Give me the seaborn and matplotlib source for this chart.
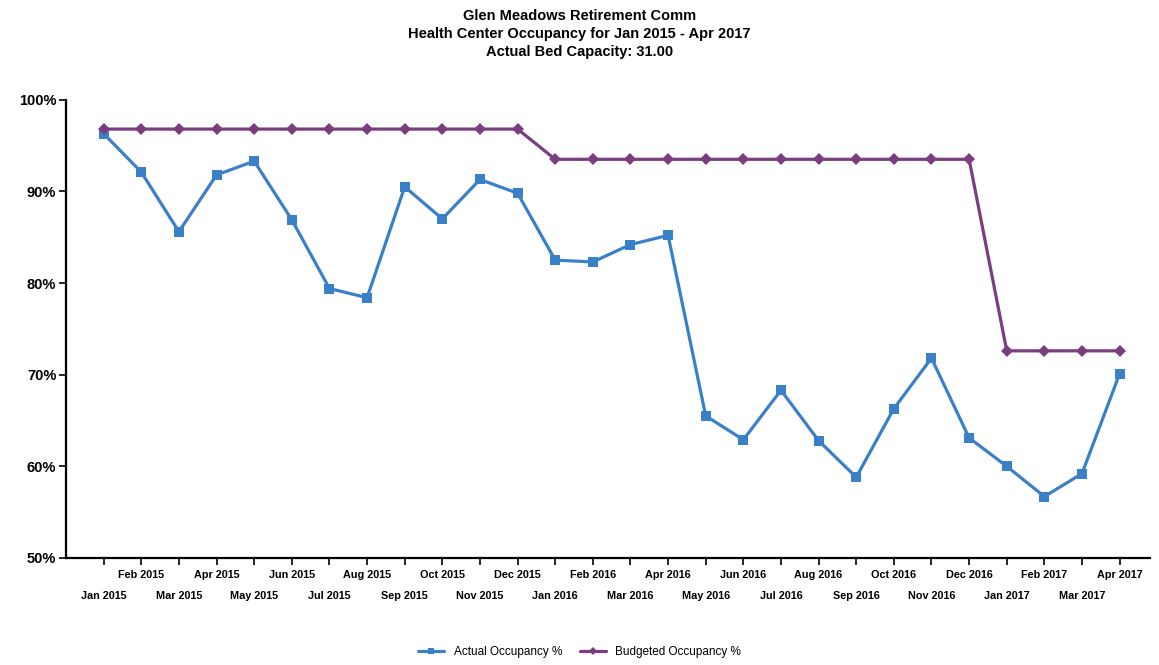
import matplotlib
import pandas as pd
import matplotlib.pyplot as plt
import seaborn as sns
from matplotlib.ticker import FuncFormatter, FixedLocator, FixedFormatter

matplotlib.use('Agg')

months = [
    "Jan 2015", "Feb 2015", "Mar 2015", "Apr 2015", "May 2015", "Jun 2015",
    "Jul 2015", "Aug 2015", "Sep 2015", "Oct 2015", "Nov 2015", "Dec 2015",
    "Jan 2016", "Feb 2016", "Mar 2016", "Apr 2016", "May 2016", "Jun 2016",
    "Jul 2016", "Aug 2016", "Sep 2016", "Oct 2016", "Nov 2016", "Dec 2016",
    "Jan 2017", "Feb 2017", "Mar 2017", "Apr 2017",
]

actual = [
    96.3, 92.1, 85.6, 91.8, 93.3, 86.9, 79.4, 78.4, 90.5, 87.0, 91.3, 89.8,
    82.5, 82.3, 84.2, 85.2, 65.5, 62.9, 68.3, 62.8, 58.8, 66.3, 71.8, 63.1,
    60.0, 56.7, 59.2, 70.1,
]

budgeted = [
    96.8, 96.8, 96.8, 96.8, 96.8, 96.8, 96.8, 96.8, 96.8, 96.8, 96.8, 96.8,
    93.5, 93.5, 93.5, 93.5, 93.5, 93.5, 93.5, 93.5, 93.5, 93.5, 93.5, 93.5,
    72.6, 72.6, 72.6, 72.6,
]

series_names = ["Actual Occupancy %", "Budgeted Occupancy %"]
colors = {"Actual Occupancy %": "#3a80c9", "Budgeted Occupancy %": "#7a3d80"}
markers = {"Actual Occupancy %": "s", "Budgeted Occupancy %": "D"}
marker_sizes = {"Actual Occupancy %": 7, "Budgeted Occupancy %": 6}

df = pd.concat([
    pd.DataFrame({"idx": range(len(months)), "value": actual, "series": series_names[0]}),
    pd.DataFrame({"idx": range(len(months)), "value": budgeted, "series": series_names[1]}),
])

sns.set_style("white")
plt.rcParams['font.family'] = ['Liberation Sans', 'DejaVu Sans']
plt.rcParams['text.color'] = 'black'
plt.rcParams['xtick.color'] = 'black'
plt.rcParams['ytick.color'] = 'black'

fig = plt.figure(figsize=(11.59, 6.65), dpi=100)
ax = fig.add_axes([0.057, 0.161, 0.935, 0.689])

for name in series_names:
    sub = df[df["series"] == name]
    sns.lineplot(data=sub, x="idx", y="value", ax=ax, color=colors[name],
                 marker=markers[name], markersize=marker_sizes[name],
                 markeredgewidth=0, linewidth=2.3, label=name)

ax.set_xlim(-1, 27.8)
ax.set_ylim(50, 100)
ax.set_yticks([50, 60, 70, 80, 90, 100])
ax.yaxis.set_major_formatter(FuncFormatter(lambda v, p: f"{int(v)}%"))

# odd months on the upper row (major), even months on the lower row (minor)
odd_idx = [i for i in range(len(months)) if i % 2 == 1]
even_idx = [i for i in range(len(months)) if i % 2 == 0]
ax.xaxis.set_major_locator(FixedLocator(odd_idx))
ax.xaxis.set_major_formatter(FixedFormatter([months[i] for i in odd_idx]))
ax.xaxis.set_minor_locator(FixedLocator(even_idx))
ax.xaxis.set_minor_formatter(FixedFormatter([months[i] for i in even_idx]))

for lbl in ax.get_xticklabels(which="both"):
    lbl.set_fontsize(7.8)
    lbl.set_fontweight("bold")
for lbl in ax.get_yticklabels():
    lbl.set_fontsize(10.5)
    lbl.set_fontweight("bold")

ax.tick_params(axis="x", which="major", direction="out", length=5, width=1.2, pad=4, bottom=True)
ax.tick_params(axis="x", which="minor", direction="out", length=5, width=1.2, pad=19, bottom=True)
ax.tick_params(axis="y", which="major", direction="out", length=5, width=1.2, pad=2, left=True)
for side in ["top", "right"]:
    ax.spines[side].set_visible(False)
for side in ["left", "bottom"]:
    ax.spines[side].set_color("black")
    ax.spines[side].set_linewidth(1.6)

ax.set_xlabel("")
ax.set_ylabel("")
ax.grid(False)

fig.text(0.5, 0.986, "Glen Meadows Retirement Comm\nHealth Center Occupancy for Jan 2015 - Apr 2017\nActual Bed Capacity: 31.00",
         ha="center", va="top", fontsize=10.5, fontweight="bold", linespacing=1.35)

handles, labels = ax.get_legend_handles_labels()
ax.legend(handles, labels, loc="center", bbox_to_anchor=(0.5, 0.02), bbox_transform=fig.transFigure,
          ncol=2, frameon=False, fontsize=8.5, handlelength=2.2, columnspacing=1.5, markerscale=0.7)

fig.savefig("out.png", dpi=100)
